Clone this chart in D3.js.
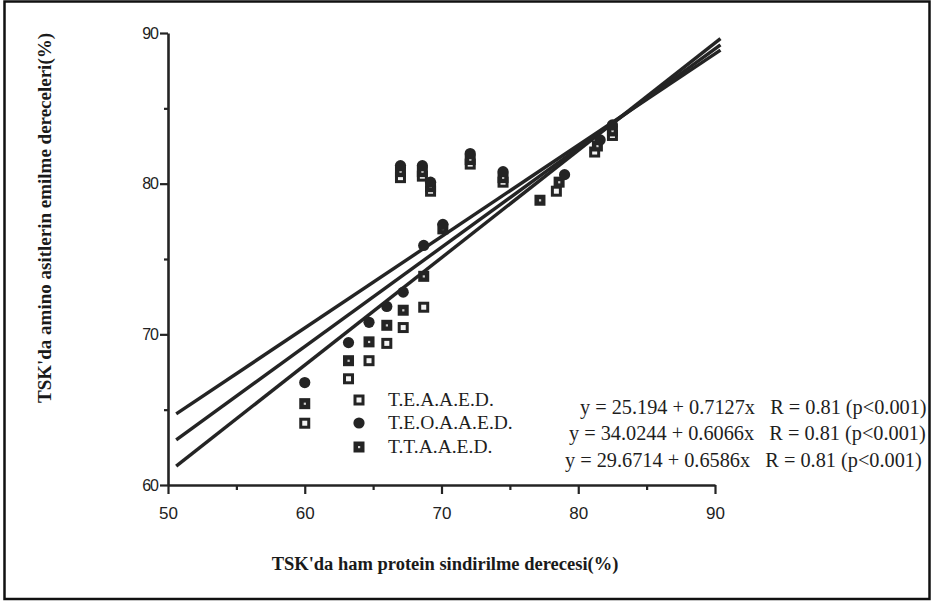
<!DOCTYPE html>
<html>
<head>
<meta charset="utf-8">
<script src="https://cdn.jsdelivr.net/npm/d3@7"></script>
<style>
  html, body { margin: 0; padding: 0; background: #fff; }
  svg { display: block; }
</style>
</head>
<body>
<svg id="chart" width="932" height="601"></svg>
<script>
// ---- data ----
const xTickValues = [50, 60, 70, 80, 90];
const xMinorTicks = [55, 65, 75, 85];
const yTickValues = [60, 70, 80, 90];
const yMinorTicks = [65, 75, 85];

const seriesNames = ["T.E.A.A.E.D.", "T.E.O.A.A.E.D.", "T.T.A.A.E.D."];
const intercepts = [25.194, 34.0244, 29.6714];
const slopes = [0.7127, 0.6066, 0.6586];
const equationTexts = [
  "y = 25.194 + 0.7127x   R = 0.81 (p<0.001)",
  "y = 34.0244 + 0.6066x   R = 0.81 (p<0.001)",
  "y = 29.6714 + 0.6586x   R = 0.81 (p<0.001)"
];
const lineStartX = 50.6;
const lineEndX = 90.4;

// T.E.A.A.E.D. (open square)
const teaX = [60, 63.2, 64.7, 66.0, 67.2, 68.7, 67.0, 68.6, 69.2, 72.1, 74.5, 78.4, 81.2, 82.5];
const teaY = [64.1, 67.05, 68.25, 69.4, 70.45, 71.8, 80.4, 80.5, 79.5, 81.3, 80.1, 79.5, 82.1, 83.2];
// T.E.O.A.A.E.D. (filled circle)
const teoX = [60, 63.2, 64.7, 66.0, 67.2, 68.7, 70.1, 67.0, 68.6, 69.2, 72.1, 74.5, 79.0, 81.6, 82.5];
const teoY = [66.8, 69.45, 70.8, 71.85, 72.8, 75.9, 77.3, 81.2, 81.2, 80.1, 82.0, 80.8, 80.6, 82.9, 83.9];
// T.T.A.A.E.D. (filled square, light dot)
const ttX = [60, 63.2, 64.7, 66.0, 67.2, 68.7, 70.1, 67.0, 68.6, 69.2, 72.1, 74.5, 77.2, 78.6, 81.4, 82.5];
const ttY = [65.4, 68.25, 69.5, 70.6, 71.6, 73.85, 77.0, 80.8, 80.8, 79.8, 81.6, 80.4, 78.9, 80.1, 82.5, 83.5];

const xTitle = "TSK'da ham protein sindirilme derecesi(%)";
const yTitle = "TSK'da amino asitlerin emilme dereceleri(%)";

// ---- drawing ----
const ink = "#242424";
const svg = d3.select("#chart");

// frame
svg.append("rect").attr("x", 4.5).attr("y", 1.5).attr("width", 925).attr("height", 597.5)
  .attr("fill", "none").attr("stroke", "#111").attr("stroke-width", 2.5);

const x = d3.scaleLinear().domain([50, 90]).range([168, 715]);
const y = d3.scaleLinear().domain([60, 90]).range([485, 33]);

// axes
const xAxisG = svg.append("g").attr("transform", `translate(0,${y(60)})`)
  .call(d3.axisBottom(x).tickValues(xTickValues).tickSize(9).tickSizeOuter(0).tickPadding(13));
svg.append("g").attr("transform", `translate(0,${y(60)})`)
  .call(d3.axisBottom(x).tickValues(xMinorTicks).tickSize(5).tickSizeOuter(0).tickFormat(""))
  .select(".domain").remove();
const yAxisG = svg.append("g").attr("transform", `translate(${x(50)},0)`)
  .call(d3.axisLeft(y).tickValues(yTickValues).tickSize(8).tickSizeOuter(0).tickPadding(2));
svg.append("g").attr("transform", `translate(${x(50)},0)`)
  .call(d3.axisLeft(y).tickValues(yMinorTicks).tickSize(4).tickSizeOuter(0).tickFormat(""))
  .select(".domain").remove();

svg.selectAll(".domain").attr("stroke", ink).attr("stroke-width", 2.6);
svg.selectAll(".tick line").attr("stroke", ink).attr("stroke-width", 2.2);
xAxisG.selectAll(".tick text").attr("font-family", "Liberation Sans, Arial, sans-serif")
  .attr("font-size", 17).attr("fill", "#222");
yAxisG.selectAll(".tick text").attr("font-family", "Liberation Sans, Arial, sans-serif")
  .attr("font-size", 16).attr("fill", "#222").attr("letter-spacing", -1);

// regression lines
intercepts.forEach((b, i) => {
  const m = slopes[i];
  svg.append("line")
    .attr("x1", x(lineStartX)).attr("y1", y(b + m * lineStartX))
    .attr("x2", x(lineEndX)).attr("y2", y(b + m * lineEndX))
    .attr("stroke", ink).attr("stroke-width", 3.4).attr("stroke-linecap", "butt");
});

// markers
function openSquare(g, cx, cy) {
  g.append("rect").attr("x", cx - 5.5).attr("y", cy - 5.5).attr("width", 11).attr("height", 11).attr("fill", ink);
  g.append("rect").attr("x", cx - 2.5).attr("y", cy - 2.5).attr("width", 5).attr("height", 5).attr("fill", "#f4f4f4");
}
function dotSquare(g, cx, cy) {
  g.append("rect").attr("x", cx - 5.5).attr("y", cy - 5.5).attr("width", 11).attr("height", 11).attr("fill", ink);
  g.append("rect").attr("x", cx - 1).attr("y", cy - 1).attr("width", 2.2).attr("height", 2.2).attr("fill", "#cfcfcf");
}
function circleMark(g, cx, cy) {
  g.append("circle").attr("cx", cx).attr("cy", cy).attr("r", 5.6).attr("fill", ink);
}

const pts = svg.append("g");
teaX.forEach((v, i) => openSquare(pts, x(v), y(teaY[i])));
ttX.forEach((v, i) => dotSquare(pts, x(v), y(ttY[i])));
teoX.forEach((v, i) => circleMark(pts, x(v), y(teoY[i])));

// legend
const legendMarkers = [openSquare, circleMark, dotSquare];
const legendY = [400, 423, 447];
const eqX = [580, 569, 565];
const eqY = [407, 433, 460];
const serif = "Liberation Serif, 'Times New Roman', serif";
seriesNames.forEach((name, i) => {
  legendMarkers[i](svg, 359, legendY[i]);
  svg.append("text").attr("x", 388).attr("y", legendY[i] + 6)
    .attr("font-family", serif).attr("font-size", 19.5).attr("fill", "#1e1e1e").text(name);
  svg.append("text").attr("x", eqX[i]).attr("y", eqY[i] + 7)
    .attr("font-family", serif).attr("font-size", 20.3).attr("fill", "#1e1e1e")
    .attr("xml:space", "preserve").style("white-space", "pre").text(equationTexts[i]);
});

// axis titles
svg.append("text").attr("x", 445).attr("y", 570).attr("text-anchor", "middle")
  .attr("font-family", serif).attr("font-weight", "bold").attr("font-size", 18.5)
  .attr("fill", "#1a1a1a").text(xTitle);
svg.append("text").attr("transform", "translate(51,218) rotate(-90)").attr("text-anchor", "middle")
  .attr("font-family", serif).attr("font-weight", "bold").attr("font-size", 19)
  .attr("fill", "#1a1a1a").text(yTitle);
</script>
</body>
</html>
